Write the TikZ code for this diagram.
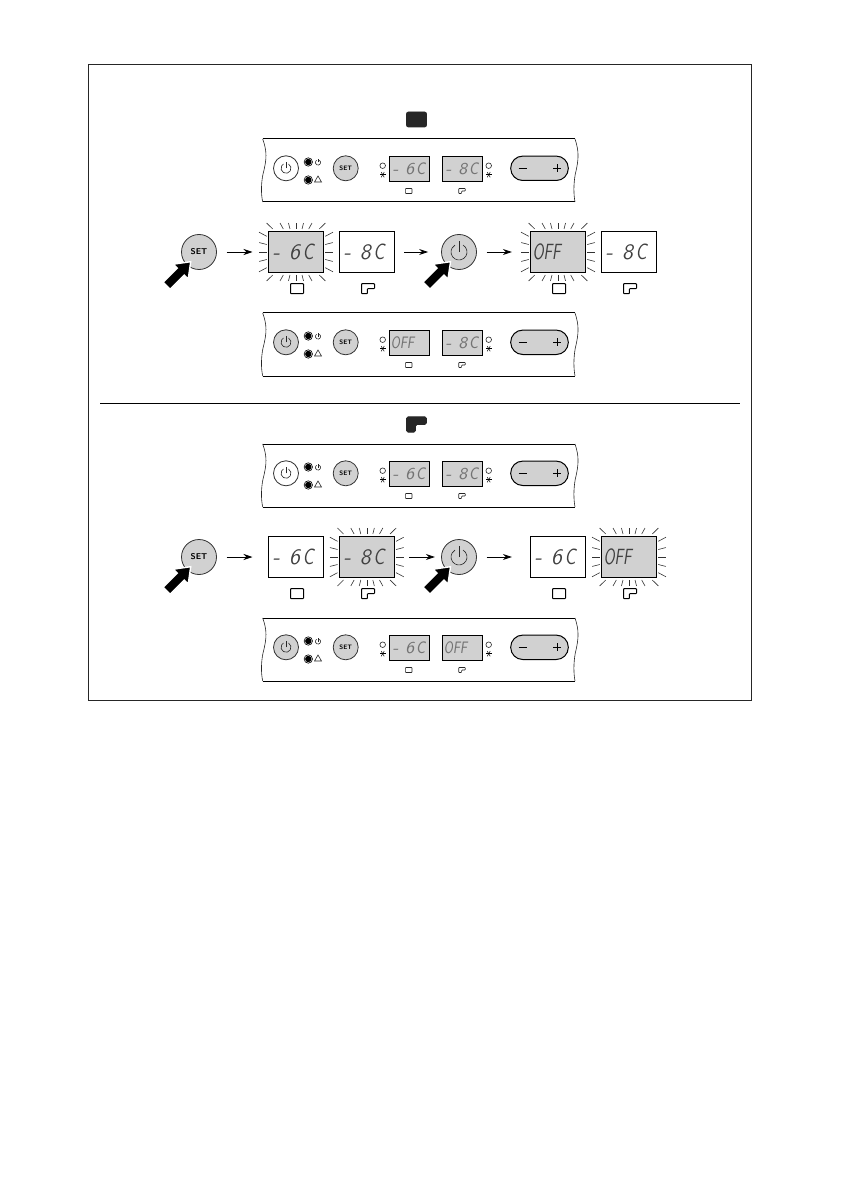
\documentclass[tikz,border=0pt]{standalone}
\usepackage{fontspec}
\usepackage{tikz}
\usetikzlibrary{arrows.meta}

\definecolor{lcdgray}{gray}{0.82}
\definecolor{inkgray}{gray}{0.15}

\tikzset{
  px/.style={x=0.5pt, y=-0.5pt},
  bigdisp/.style={draw=black, line width=0.6pt, minimum width=27.5pt, minimum height=20.2pt, inner sep=0pt, outer sep=0pt,
    text width=25.5pt, align=left, text=black!75, font=\sffamily\itshape\fontsize{11}{11}\selectfont},
  smalldisp/.style={draw=black, line width=0.5pt, fill=lcdgray, minimum width=20pt, minimum height=12.6pt, inner sep=0pt, outer sep=0pt,
    text width=18.4pt, align=left, text=black!55, font=\sffamily\itshape\fontsize{8.3}{9}\selectfont},
  bigbutton/.style={circle, draw=black!80, line width=0.4pt, fill=lcdgray, minimum size=17.5pt, inner sep=0pt, outer sep=0pt,
    font=\sffamily\bfseries\fontsize{4.2}{5}\selectfont},
  smallbutton/.style={circle, draw=black!80, line width=0.4pt, minimum size=12.5pt, inner sep=0pt, outer sep=0pt,
    font=\sffamily\bfseries\fontsize{3.2}{4}\selectfont},
  pill/.style={draw=black, line width=0.5pt, fill=lcdgray, rounded corners=6pt, minimum width=28.8pt, minimum height=12.2pt, inner sep=0pt},
  flow/.style={line width=0.4pt, -{Stealth[length=4.5pt, width=3pt]}},
  ray/.style={line width=0.3pt, draw=black!80},
  thinline/.style={line width=0.3pt, draw=black!85},
}

% power sign at x, y with radius r
\newcommand{\powersign}[3]{
  \draw[thinline] (#1,#2) ++(-60:#3) arc[start angle=-60, end angle=240, radius=#3];
  \draw[thinline] (#1,#2) -- ++(0,-1.35*#3);
}
% the two fridge compartments, plain and with a notch
\newcommand{\boxicon}[4]{
  \draw[rounded corners=0.35pt, #4] (#1-#3,#2-0.77*#3) rectangle (#1+#3,#2+0.77*#3);
}
\newcommand{\lshapeicon}[4]{
  \draw[rounded corners=0.35pt, #4] (#1-#3,#2-0.77*#3) -- (#1+#3,#2-0.77*#3) -- (#1+#3,#2) -- (#1-0.1*#3,#2)
    -- (#1-0.1*#3,#2+0.77*#3) -- (#1-#3,#2+0.77*#3) -- cycle;
}
% flashing rays round a big display
\newcommand{\rays}[2]{
  \foreach \sx in {-1,1} \foreach \sy in {-1,1}
    \foreach \x/\y in {0/23, 6/23, 12.7/23, 23.3/23, 29.3/15.7, 29.3/7.5, 29.3/0}
      \draw[ray] (#1+\sx*\x,#2+\sy*\y) -- (#1+1.26*\sx*\x,#2+1.26*\sy*\y);
}
% black arrow pressing a button, tip at x, y
\newcommand{\pressarrow}[2]{
  \draw[fill=black, draw=white, line width=0.7pt, shift={(#1,#2)}] (0,0) -- (-2.5,17.3) -- (-6.4,13.4) -- (-20.5,27.5)
    -- (-27.5,20.5) -- (-13.4,6.4) -- (-17.3,2.5) -- cycle;
}
\newcommand{\tempread}[1]{\mbox{\hspace{0.1em}-\hspace{0.42em}#1\hspace{0.12em}\scalebox{0.8}[1]{C}}}
\newcommand{\offread}{\mbox{\scalebox{0.7}[1]{OFF}}}

% one control panel: name, top y, fill of the power button, left and right display
\newcommand{\panel}[5]{
  \begin{scope}[shift={(0,#2)}]
    \draw[line width=0.5pt] (262.7,0) -- (575,0);
    \draw[line width=0.5pt] (262.7,63) -- (575,63);
    \draw[thinline] (262.7,0) .. controls (267,12) and (267,20) .. (263,35) .. controls (261,45) and (261,55) .. (262.7,63);
    \draw[thinline] (575,0) .. controls (579,12) and (579,20) .. (575.3,35) .. controls (573.5,45) and (573.5,55) .. (575,63);
    \node[smallbutton, fill=#3] (#1power) at (286,29.3) {};
    \powersign{286}{29.3}{5}
    \node[smallbutton, fill=lcdgray] (#1set) at (345.7,29.3) {SET};
    \foreach \y in {23,41} {
      \draw[line width=0.3pt] (308.3,\y) circle (4.2);
      \fill (308.3,\y) circle (3.2);
    }
    \powersign{318}{23.5}{2.6}
    \draw[thinline] (318,37) -- (321.5,43) -- (314.5,43) -- cycle;
    \node[smalldisp] (#1left) at (409.3,29.7) {#4};
    \node[smalldisp] (#1right) at (462.3,29.7) {#5};
    \foreach \x in {382.7,488.7} {
      \draw[thinline] (\x,26.7) circle (2.8);
      \foreach \a in {0,60,120}
        \draw[line width=0.25pt] (\x,35.7) ++(\a:3) -- ++(\a+180:6);
    }
    \boxicon{408.7}{52}{3.3}{thinline}
    \lshapeicon{462}{52}{3.3}{thinline}
    \node[pill] (#1pill) at (539.5,29.3) {};
    \draw[line width=0.5pt] (518.7,29.3) -- (526.7,29.3);
    \draw[line width=0.5pt] (553.3,29.3) -- (561.3,29.3) (557.3,25.3) -- (557.3,33.3);
  \end{scope}
}

\begin{document}
\begin{tikzpicture}[px]
    \useasboundingbox (0,0) rectangle (840,1192);
    \draw[line width=0.5pt, draw=black!85] (88,65) rectangle (751,700);
    \draw[line width=0.5pt] (100,403.7) -- (740,403.7);

    % first compartment
    \draw[fill=inkgray, draw=inkgray, rounded corners=1pt] (406.5,112) rectangle (426.5,127);
    \panel{pa}{139}{white}{\tempread{6}}{\tempread{8}}

    \rays{296}{252}
    \node[bigbutton] (seta) at (199,252) {SET};
    \node[bigdisp, fill=lcdgray] (dispa) at (296,252) {\tempread{6}};
    \node[bigdisp, fill=white] (dispb) at (366.8,252) {\tempread{8}};
    \node[bigbutton] (powera) at (459,252) {};
    \powersign{459}{252}{8}
    \rays{558}{252}
    \node[bigdisp, fill=lcdgray] (dispc) at (558,252) {\offread};
    \node[bigdisp, fill=white] (dispd) at (629,252) {\tempread{8}};
    \draw[flow, shorten <=5pt, shorten >=8pt] (seta) -- (dispa);
    \draw[flow, shorten <=5pt, shorten >=6.7pt] (dispb) -- (powera);
    \draw[flow, shorten <=5pt, shorten >=9.3pt] (powera) -- (dispc);
    \pressarrow{190.7}{261.7}
    \pressarrow{450.5}{261.7}
    \boxicon{297}{288.7}{6.5}{line width=0.5pt}
    \lshapeicon{368}{288.7}{6.5}{line width=0.5pt}
    \boxicon{559}{288.7}{6.5}{line width=0.5pt}
    \lshapeicon{630}{288.7}{6.5}{line width=0.5pt}
    \panel{pb}{313}{lcdgray}{\offread}{\tempread{8}}

    % second compartment
    \lshapeicon{416.5}{424.5}{10}{fill=inkgray, draw=inkgray, rounded corners=0.8pt}
    \panel{pc}{444}{white}{\tempread{6}}{\tempread{8}}

    \node[bigbutton] (setb) at (199,557) {SET};
    \node[bigdisp, fill=white] (dispe) at (296,557) {\tempread{6}};
    \rays{366.8}{557}
    \node[bigdisp, fill=lcdgray] (dispf) at (366.8,557) {\tempread{8}};
    \node[bigbutton] (powerb) at (459,557) {};
    \powersign{459}{557}{8}
    \node[bigdisp, fill=white] (dispg) at (558,557) {\tempread{6}};
    \rays{629}{557}
    \node[bigdisp, fill=lcdgray] (disph) at (629,557) {\offread};
    \draw[flow, shorten <=5pt, shorten >=8pt] (setb) -- (dispe);
    \draw[flow, shorten <=7.5pt, shorten >=3.3pt] (dispf) -- (powerb);
    \draw[flow, shorten <=5pt, shorten >=9.3pt] (powerb) -- (dispg);
    \pressarrow{190.7}{566.7}
    \pressarrow{450.5}{566.7}
    \boxicon{297}{593.7}{6.5}{line width=0.5pt}
    \lshapeicon{368}{593.7}{6.5}{line width=0.5pt}
    \boxicon{559}{593.7}{6.5}{line width=0.5pt}
    \lshapeicon{630}{593.7}{6.5}{line width=0.5pt}
    \panel{pd}{618}{lcdgray}{\tempread{6}}{\offread}
\end{tikzpicture}
\end{document}
